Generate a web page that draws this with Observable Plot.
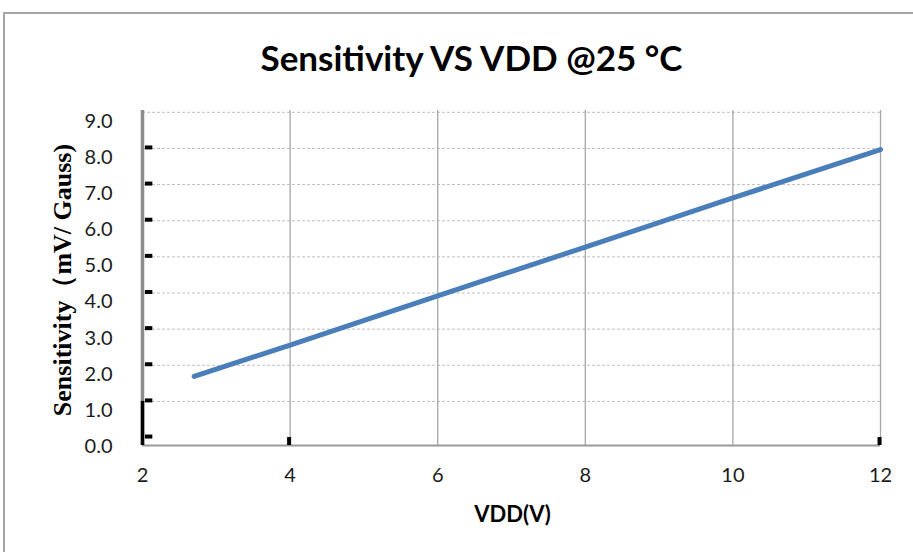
<!DOCTYPE html>
<html><head><meta charset="utf-8">
<script src="https://cdn.jsdelivr.net/npm/d3@7"></script>
<script src="https://cdn.jsdelivr.net/npm/@observablehq/plot@0.6"></script>
<style>
body{margin:0;background:#fff;}
#wrap{position:relative;width:913px;height:552px;overflow:hidden;}
#border{position:absolute;left:3px;top:12px;width:2000px;height:2000px;border-top:2px solid #a6a6a6;border-left:2px solid #a6a6a6;}
#chart{position:absolute;left:0;top:0;}
</style></head><body>
<div id="wrap"><div id="border"></div><div id="chart"></div></div>
<script>
const vdd = [2.7, 4, 6, 8, 10, 12];
const sensitivity = [1.69, 2.56, 3.92, 5.27, 6.63, 7.97];
const xTicks = [2, 4, 6, 8, 10, 12];
const yTicks = [0, 1, 2, 3, 4, 5, 6, 7, 8, 9];
const xGrid = [4, 6, 8, 10, 12];
const yGrid = [1, 2, 3, 4, 5, 6, 7, 8, 9];
const leftMarks = [0, 1, 2, 3, 4, 5, 6, 7, 8];
const leftMarkSpan = [2.04, 2.14];
const bottomMarks = [4, 12];
const xDomain = [2, 12];
const yDomain = [-0.22, 9.05];
const title = "Sensitivity VS VDD @25 °C";
const xLabel = "VDD(V)";
const yLabel = "Sensitivity（mV/ Gauss)";

const data = vdd.map((v, i) => ({vdd: v, s: sensitivity[i]}));

const chart = Plot.plot({
  width: 913, height: 552,
  marginLeft: 142, marginRight: 33, marginTop: 110, marginBottom: 107,
  x: {domain: xDomain},
  y: {domain: yDomain},
  style: {fontFamily: "Lato, sans-serif", background: "transparent", overflow: "visible"},
  marks: [
    Plot.ruleY(yGrid, {stroke: "#bfbfbf", strokeDasharray: "3,2", strokeWidth: 1}),
    Plot.ruleX(xGrid, {stroke: "#a6a6a6", strokeWidth: 1.3}),
    Plot.ruleY([yDomain[0]], {stroke: "#999", strokeWidth: 2}),
    Plot.ruleX([xDomain[0]], {stroke: "#8c8c8c", strokeWidth: 3.5}),
    Plot.ruleX([xDomain[0]], {y1: yDomain[0], y2: 1, stroke: "#000", strokeWidth: 3.5}),
    Plot.ruleY(leftMarks, {x1: leftMarkSpan[0], x2: leftMarkSpan[1], stroke: "#000", strokeWidth: 4, dy: -1}),
    Plot.ruleX(bottomMarks, {y1: yDomain[0], y2: 0, stroke: "#000", strokeWidth: 4, dx: -1}),
    Plot.line(data, {x: "vdd", y: "s", stroke: "#4a7ebb", strokeWidth: 5, strokeLinecap: "round"}),
    Plot.axisX({ticks: xTicks, tickSize: 0, tickPadding: 22, fontSize: 20, label: null, fill: "#1a1a1a"}),
    Plot.axisY({ticks: yTicks, tickSize: 0, tickPadding: 30, fontSize: 20, label: null, dy: 9, tickFormat: d => d.toFixed(1), fill: "#1a1a1a"}),
    Plot.text([title], {frameAnchor: "top", dx: -40, dy: -64, fontSize: 35, fontWeight: "bold", fill: "#000"}),
    Plot.text([xLabel], {frameAnchor: "bottom", dx: 1, dy: 76, fontSize: 22, fontWeight: "bold", fill: "#000"}),
    Plot.text([yLabel], {frameAnchor: "left", textAnchor: "middle", rotate: -90, dx: -80, dy: 2, fontSize: 26, fontWeight: "bold", fontFamily: "Liberation Serif, serif", fill: "#000"})
  ]
});
document.getElementById("chart").appendChild(chart);
</script>
</body></html>
